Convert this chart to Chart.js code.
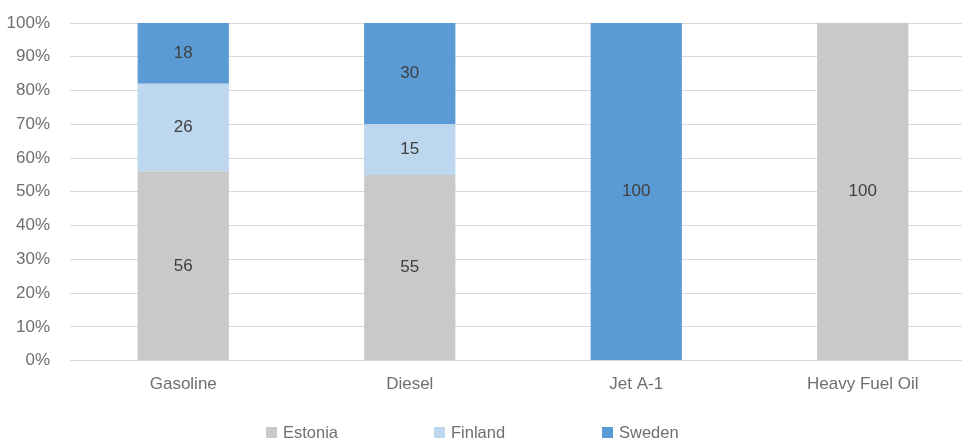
<!DOCTYPE html>
<html><head><meta charset="utf-8">
<script src="https://cdn.jsdelivr.net/npm/chart.js@4/dist/chart.umd.min.js"></script>
<style>
html,body{margin:0;padding:0;background:#fff;overflow:hidden;width:962px;height:441px;}
#wrap{position:absolute;left:0;top:0;width:976px;height:441px;}
#legend{position:absolute;left:266px;top:422px;display:flex;font-family:'Liberation Sans',Arial,sans-serif;font-size:16.5px;line-height:20px;color:#6f6f6f;}
.item{display:flex;align-items:center;width:168px;}
.box{width:11px;height:11px;margin-right:6px;}
</style></head><body>
<div id="wrap"><canvas id="c" width="976" height="441" style="width:976px;height:441px"></canvas></div>
<div id="legend"></div>
<script>
const categories = ['Gasoline', 'Diesel', 'Jet A-1', 'Heavy Fuel Oil'];
const seriesNames = ['Estonia', 'Finland', 'Sweden'];
const estonia = [56, 55, null, 100];
const finland = [26, 15, null, null];
const sweden = [18, 30, 100, null];
const yTickValues = [0, 10, 20, 30, 40, 50, 60, 70, 80, 90, 100];
const colors = ['#c9c9c9', '#bdd7ee', '#5b9bd5'];

const FONT = "'Liberation Sans', Arial, sans-serif";

const valueLabels = {
  id: 'valueLabels',
  afterDatasetsDraw(chart) {
    const ctx = chart.ctx;
    ctx.save();
    ctx.font = '17px ' + FONT;
    ctx.fillStyle = '#404040';
    ctx.textAlign = 'center';
    ctx.textBaseline = 'middle';
    chart.data.datasets.forEach((ds, i) => {
      const meta = chart.getDatasetMeta(i);
      meta.data.forEach((el, j) => {
        const v = ds.data[j];
        if (v === null || v === undefined || v === 0) return;
        const p = el.getCenterPoint();
        ctx.fillText(String(v), p.x, p.y);
      });
    });
    ctx.restore();
  }
};

const datasets = [estonia, finland, sweden].map((d, i) => ({
  label: seriesNames[i],
  data: d,
  backgroundColor: colors[i],
  borderWidth: 0,
  barPercentage: 0.403,
  categoryPercentage: 1.0
}));

new Chart(document.getElementById('c'), {
  type: 'bar',
  data: { labels: categories, datasets },
  options: {
    responsive: false,
    animation: false,
    devicePixelRatio: 1,
    layout: { padding: { top: 23, bottom: 32, left: 0, right: 0 } },
    plugins: { legend: { display: false }, tooltip: { enabled: false } },
    scales: {
      x: {
        stacked: true,
        afterFit(scale) { scale.paddingLeft = 0; scale.paddingRight = 0; },
        grid: { display: false, drawTicks: false },
        border: { display: true, color: '#d9d9d9', width: 1 },
        ticks: { color: '#6f6f6f', font: { family: FONT, size: 17 }, padding: 14 }
      },
      y: {
        stacked: true,
        min: 0, max: 100,
        afterFit(scale) { scale.width = 70; scale.paddingTop = 0; scale.paddingBottom = 0; },
        afterBuildTicks(scale) { scale.ticks = yTickValues.map(v => ({ value: v })); },
        grid: { color: '#d9d9d9', lineWidth: 1, drawTicks: false },
        border: { display: false },
        ticks: {
          color: '#6f6f6f', font: { family: FONT, size: 17 }, padding: 20,
          callback: v => v + '%'
        }
      }
    }
  },
  plugins: [valueLabels]
});

const leg = document.getElementById('legend');
seriesNames.forEach((n, i) => {
  const it = document.createElement('div'); it.className = 'item';
  const b = document.createElement('span'); b.className = 'box'; b.style.background = colors[i];
  const t = document.createElement('span'); t.textContent = n;
  it.appendChild(b); it.appendChild(t); leg.appendChild(it);
});
</script>
</body></html>
